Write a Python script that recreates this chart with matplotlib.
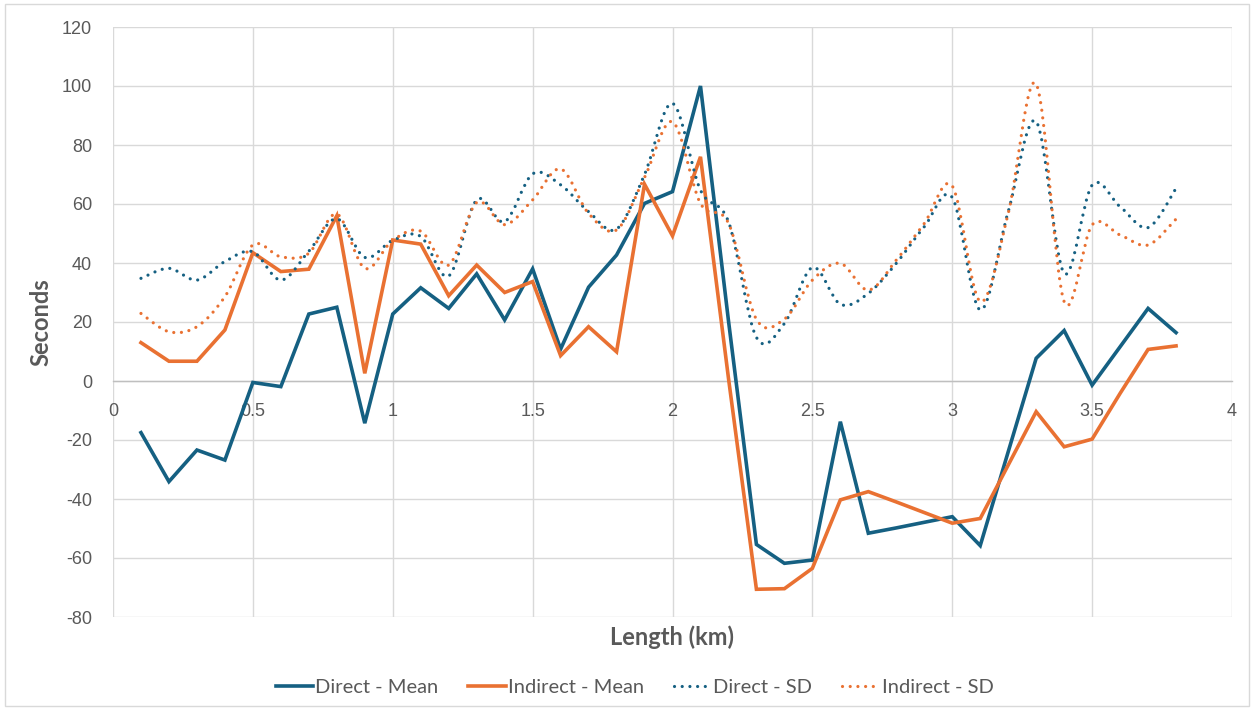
import matplotlib
matplotlib.use("Agg")

import matplotlib.pyplot as plt
import numpy as np
from matplotlib.lines import Line2D
from matplotlib.patches import PathPatch, Rectangle
from matplotlib.path import Path

# length along the route (km)
length_km = [
    0.1, 0.2, 0.3, 0.4, 0.5, 0.6, 0.7, 0.8, 0.9, 1.0,
    1.1, 1.2, 1.3, 1.4, 1.5, 1.6, 1.7, 1.8, 1.9, 2.0,
    2.1, 2.2, 2.3, 2.4, 2.5, 2.6, 2.7, 2.8, 2.9, 3.0,
    3.1, 3.2, 3.3, 3.4, 3.5, 3.6, 3.7, 3.8,
]

direct_mean = [
    -17.5, -34.1, -23.4, -26.8, -0.5, -1.9, 22.7, 25.0, -14.3, 22.7,
    31.6, 24.6, 36.3, 20.7, 38.0, 10.8, 31.8, 42.7, 60.2, 64.2,
    100.0, 20.5, -55.4, -61.8, -60.7, -13.8, -51.6, -49.8, -47.9, -46.0,
    -55.8, -24.0, 7.7, 17.1, -1.4, 11.6, 24.6, 16.4,
]

indirect_mean = [
    13.0, 6.7, 6.7, 17.3, 43.5, 37.1, 37.9, 56.0, 2.6, 47.8,
    46.4, 28.9, 39.3, 30.0, 33.7, 8.6, 18.4, 9.9, 66.7, 49.2,
    76.0, 1.0, -70.6, -70.4, -63.5, -40.3, -37.5, -41.0, -44.6, -48.2,
    -46.6, -28.5, -10.4, -22.3, -19.7, -4.2, 10.7, 11.9,
]

direct_sd = [
    34.8, 38.2, 34.2, 40.5, 43.8, 34.2, 44.0, 55.0, 41.9, 47.7,
    49.0, 35.6, 61.4, 54.0, 70.2, 66.5, 57.4, 51.5, 70.0, 94.1,
    64.7, 54.0, 14.8, 19.5, 38.5, 26.0, 29.7, 39.9, 52.3, 62.2,
    24.1, 57.4, 88.0, 36.5, 66.4, 59.1, 52.0, 65.3,
]

indirect_sd = [
    22.9, 16.7, 18.4, 28.6, 46.1, 42.1, 43.3, 56.6, 38.2, 47.7,
    50.8, 39.3, 60.5, 53.0, 61.4, 71.9, 56.8, 51.2, 69.0, 87.9,
    60.2, 53.5, 20.9, 21.0, 34.2, 39.9, 30.8, 41.0, 53.4, 66.1,
    26.9, 56.8, 100.7, 26.9, 52.9, 49.5, 46.1, 54.9,
]

series_labels = ["Direct - Mean", "Indirect - Mean", "Direct - SD", "Indirect - SD"]

BLUE = "#156082"
ORANGE = "#E97132"
TEXT = "#595959"
GRID = "#d9d9d9"

TICK_FONT = ["Liberation Sans", "DejaVu Sans"]
TITLE_FONT = ["Lato", "DejaVu Sans"]

DOTTED = (0, (0.01, 2.4))

plt.rcParams["axes.unicode_minus"] = False


def smooth_path(x, y) -> Path:
    # Catmull-Rom style Bezier through the data points (like a smoothed spreadsheet line)
    pts = np.column_stack([np.asarray(x, dtype=float), np.asarray(y, dtype=float)])
    n = len(pts)
    verts = [pts[0]]
    codes = [Path.MOVETO]

    for i in range(n - 1):
        p0 = pts[max(i - 1, 0)]
        p1 = pts[i]
        p2 = pts[i + 1]
        p3 = pts[min(i + 2, n - 1)]
        verts += [p1 + (p2 - p0) / 6.0, p2 - (p3 - p1) / 6.0, p2]
        codes += [Path.CURVE4] * 3

    return Path(verts, codes)


def main() -> None:
    fig = plt.figure(figsize=(12.54, 7.10), dpi=100)
    ax = fig.add_axes([113 / 1254, 1 - 617 / 710, 1119 / 1254, 590 / 710])

    ax.plot(length_km, direct_mean, color=BLUE, linewidth=2.6, solid_joinstyle="miter", zorder=3)
    ax.plot(length_km, indirect_mean, color=ORANGE, linewidth=2.6, solid_joinstyle="miter", zorder=3)

    for values, color in [(direct_sd, BLUE), (indirect_sd, ORANGE)]:
        patch = PathPatch(
            smooth_path(length_km, values),
            fill=False,
            edgecolor=color,
            linewidth=2.3,
            linestyle=DOTTED,
            capstyle="round",
            zorder=4,
        )
        ax.add_patch(patch)

    xticks = np.arange(0, 4.01, 0.5)
    ax.set_xlim(0, 4)
    ax.set_ylim(-80, 120)
    ax.set_xticks(xticks)
    ax.set_yticks(np.arange(-80, 121, 20))
    ax.set_xticklabels([f"{v:g}" for v in xticks])

    ax.grid(True, color=GRID, linewidth=1.0)
    ax.set_axisbelow(True)

    for side in ["top", "right", "left"]:
        ax.spines[side].set_visible(False)
    ax.spines["bottom"].set_position(("data", 0))
    ax.spines["bottom"].set_color("#bfbfbf")
    ax.spines["bottom"].set_linewidth(1.0)
    ax.spines["bottom"].set_zorder(1)

    ax.tick_params(axis="x", length=0, pad=16, labelsize=13, labelcolor=TEXT)
    ax.tick_params(axis="y", length=0, pad=15, labelsize=13, labelcolor=TEXT)
    for label in ax.get_xticklabels() + ax.get_yticklabels():
        label.set_family(TICK_FONT)

    ax.set_ylabel("Seconds", fontsize=17, fontweight="bold", color=TEXT, family=TITLE_FONT)
    ax.yaxis.label.set_va("center")
    ax.yaxis.set_label_coords(-72 / 1119, 0.5)
    ax.set_xlabel("Length (km)", fontsize=17, fontweight="bold", color=TEXT, family=TITLE_FONT)
    ax.xaxis.label.set_va("center")
    ax.xaxis.set_label_coords(0.5, -20 / 590)

    handles = [
        Line2D([], [], color=BLUE, linewidth=2.6),
        Line2D([], [], color=ORANGE, linewidth=2.6),
        Line2D([], [], color=BLUE, linewidth=2.3, linestyle=DOTTED, dash_capstyle="round"),
        Line2D([], [], color=ORANGE, linewidth=2.3, linestyle=DOTTED, dash_capstyle="round"),
    ]
    legend = fig.legend(
        handles,
        series_labels,
        loc="center",
        bbox_to_anchor=(0.506, 1 - 687 / 710),
        ncol=4,
        frameon=False,
        handlelength=1.85,
        handletextpad=0.1,
        columnspacing=1.5,
        prop={"family": TITLE_FONT, "size": 14.5},
    )
    for text in legend.get_texts():
        text.set_color(TEXT)

    fig.add_artist(
        Rectangle(
            (5 / 1254, 4 / 710),
            1244 / 1254,
            702 / 710,
            transform=fig.transFigure,
            fill=False,
            edgecolor=GRID,
            linewidth=1.0,
        )
    )

    fig.savefig("out.png", dpi=100)
    plt.close(fig)


if __name__ == "__main__":
    main()
